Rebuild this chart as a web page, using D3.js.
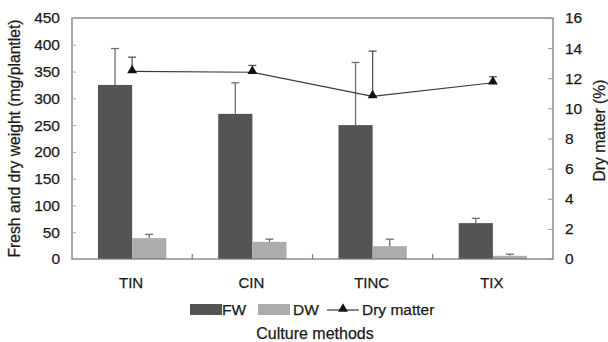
<!DOCTYPE html>
<html>
<head>
<meta charset="utf-8">
<script src="https://cdn.jsdelivr.net/npm/d3@7"></script>
<style>
  body { margin: 0; background: #fff; }
  svg { display: block; font-family: "Liberation Sans", Arial, sans-serif; }
  text { stroke: #1a1a1a; stroke-width: 0.25px; }
</style>
</head>
<body>
<div id="chart"></div>
<script>
// data
const methods = ["TIN", "CIN", "TINC", "TIX"];
const fw = [325, 271, 250, 67];        // fresh weight (mg/plantlet)
const fwErr = [68, 58, 117, 9];
const dw = [39, 32, 24, 6];            // dry weight (mg/plantlet)
const dwErr = [7, 5, 13, 3];
const dryMatter = [12.45, 12.4, 10.8, 11.7];   // %
const dryMatterErr = [0.95, 0.45, 3.0, 0.4];
const leftTicks = [0, 50, 100, 150, 200, 250, 300, 350, 400, 450];
const rightTicks = [0, 2, 4, 6, 8, 10, 12, 14, 16];

const width = 608, height = 342;
const margin = {top: 18, right: 55, bottom: 83, left: 72};

const colorFW = "#545454", colorDW = "#acacac";
const axisGrey = "#7a7a7a", textColor = "#1a1a1a";

const svg = d3.select("#chart").append("svg")
    .attr("width", width)
    .attr("height", height)
    .attr("viewBox", [0, 0, width, height]);

const x0 = d3.scaleBand(methods, [margin.left, width - margin.right]).padding(0);
const x1 = d3.scaleBand(["FW", "DW"], [0, x0.bandwidth()])
    .paddingInner(0).paddingOuter(0.76);
const y = d3.scaleLinear([0, 450], [height - margin.bottom, margin.top]);
const y2 = d3.scaleLinear([0, 16], [height - margin.bottom, margin.top]);

// bars
const series = [
  {key: "FW", values: fw, err: fwErr, color: colorFW},
  {key: "DW", values: dw, err: dwErr, color: colorDW}
];

series.forEach(s => {
  const g = svg.append("g");
  g.selectAll("rect")
    .data(methods)
    .join("rect")
      .attr("x", (d, i) => x0(d) + x1(s.key))
      .attr("y", (d, i) => y(s.values[i]))
      .attr("width", x1.bandwidth())
      .attr("height", (d, i) => y(0) - y(s.values[i]))
      .attr("fill", s.color);
  // error bars (upper only)
  const eg = svg.append("g").attr("stroke", "#6e6e6e").attr("stroke-width", 1.3);
  methods.forEach((d, i) => {
    const cx = x0(d) + x1(s.key) + x1.bandwidth() / 2;
    eg.append("line").attr("x1", cx).attr("x2", cx)
      .attr("y1", y(s.values[i])).attr("y2", y(s.values[i] + s.err[i]));
    eg.append("line").attr("x1", cx - 4).attr("x2", cx + 4)
      .attr("y1", y(s.values[i] + s.err[i])).attr("y2", y(s.values[i] + s.err[i]));
  });
});

// dry matter line
const cxOf = d => x0(d) + x0.bandwidth() / 2;
svg.append("path")
    .datum(methods)
    .attr("fill", "none")
    .attr("stroke", "#3a3a3a")
    .attr("stroke-width", 1.2)
    .attr("d", d3.line().x(d => cxOf(d)).y((d, i) => y2(dryMatter[i])));

const dmErr = svg.append("g").attr("stroke", "#555").attr("stroke-width", 1.3);
methods.forEach((d, i) => {
  const cx = cxOf(d);
  dmErr.append("line").attr("x1", cx).attr("x2", cx)
    .attr("y1", y2(dryMatter[i])).attr("y2", y2(dryMatter[i] + dryMatterErr[i]));
  dmErr.append("line").attr("x1", cx - 4).attr("x2", cx + 4)
    .attr("y1", y2(dryMatter[i] + dryMatterErr[i])).attr("y2", y2(dryMatter[i] + dryMatterErr[i]));
});

const tri = d3.symbol(d3.symbolTriangle, 42);
svg.append("g")
  .selectAll("path")
  .data(methods)
  .join("path")
    .attr("d", tri)
    .attr("transform", (d, i) => `translate(${cxOf(d)},${y2(dryMatter[i]) - 1})`)
    .attr("fill", "#111");

// frame
svg.append("rect")
    .attr("x", margin.left)
    .attr("y", margin.top)
    .attr("width", width - margin.left - margin.right)
    .attr("height", height - margin.top - margin.bottom)
    .attr("fill", "none")
    .attr("stroke", axisGrey)
    .attr("stroke-width", 1.3);

// left axis
svg.append("g")
    .attr("transform", `translate(${margin.left},0)`)
    .call(d3.axisLeft(y).tickValues(leftTicks).tickSize(-4).tickPadding(12))
    .call(g => g.select(".domain").remove())
    .call(g => g.selectAll(".tick line").attr("stroke", "#aaa"))
    .call(g => g.selectAll(".tick text")
        .attr("fill", textColor).attr("font-size", 15.5)
        .attr("font-family", "Liberation Sans, Arial, sans-serif"));

// right axis
svg.append("g")
    .attr("transform", `translate(${width - margin.right},0)`)
    .call(d3.axisRight(y2).tickValues(rightTicks).tickSize(-5).tickPadding(12))
    .call(g => g.select(".domain").remove())
    .call(g => g.selectAll(".tick line").attr("stroke", "#999"))
    .call(g => g.selectAll(".tick text")
        .attr("fill", textColor).attr("font-size", 15.5)
        .attr("font-family", "Liberation Sans, Arial, sans-serif"));

// category boundary ticks (pointing up)
svg.append("g")
    .attr("stroke", axisGrey)
    .attr("stroke-width", 1.2)
  .selectAll("line")
  .data(methods.slice(1))
  .join("line")
    .attr("x1", d => x0(d)).attr("x2", d => x0(d))
    .attr("y1", y(0)).attr("y2", y(0) - 5);

// category labels
svg.append("g")
    .attr("font-size", 15)
    .attr("fill", textColor)
    .attr("text-anchor", "middle")
  .selectAll("text")
  .data(methods)
  .join("text")
    .attr("x", d => cxOf(d) - 1)
    .attr("y", 288)
    .text(d => d);

// axis titles
svg.append("text")
    .attr("transform", `translate(20,${(margin.top + y(0)) / 2}) rotate(-90)`)
    .attr("text-anchor", "middle")
    .attr("font-size", 15.7)
    .attr("fill", textColor)
    .text("Fresh and dry weight (mg/plantlet)");

svg.append("text")
    .attr("transform", `translate(605,${(margin.top + y(0)) / 2 - 8}) rotate(-90)`)
    .attr("text-anchor", "middle")
    .attr("font-size", 15.7)
    .attr("fill", textColor)
    .text("Dry matter (%)");

svg.append("text")
    .attr("x", 315)
    .attr("y", 339)
    .attr("text-anchor", "middle")
    .attr("font-size", 16)
    .attr("fill", textColor)
    .text("Culture methods");

// legend
const legend = svg.append("g").attr("font-size", 15.5).attr("fill", textColor);
legend.append("rect").attr("x", 190).attr("y", 304).attr("width", 32).attr("height", 11).attr("fill", colorFW);
legend.append("text").attr("x", 222).attr("y", 315).text("FW");
legend.append("rect").attr("x", 258).attr("y", 304).attr("width", 32).attr("height", 11).attr("fill", colorDW);
legend.append("text").attr("x", 293).attr("y", 315).text("DW");
legend.append("line").attr("x1", 327).attr("x2", 359).attr("y1", 310).attr("y2", 310)
    .attr("stroke", "#3a3a3a").attr("stroke-width", 1.2);
legend.append("path").attr("d", tri).attr("transform", "translate(343,309)").attr("fill", "#111");
legend.append("text").attr("x", 362).attr("y", 315).text("Dry matter");
</script>
</body>
</html>
